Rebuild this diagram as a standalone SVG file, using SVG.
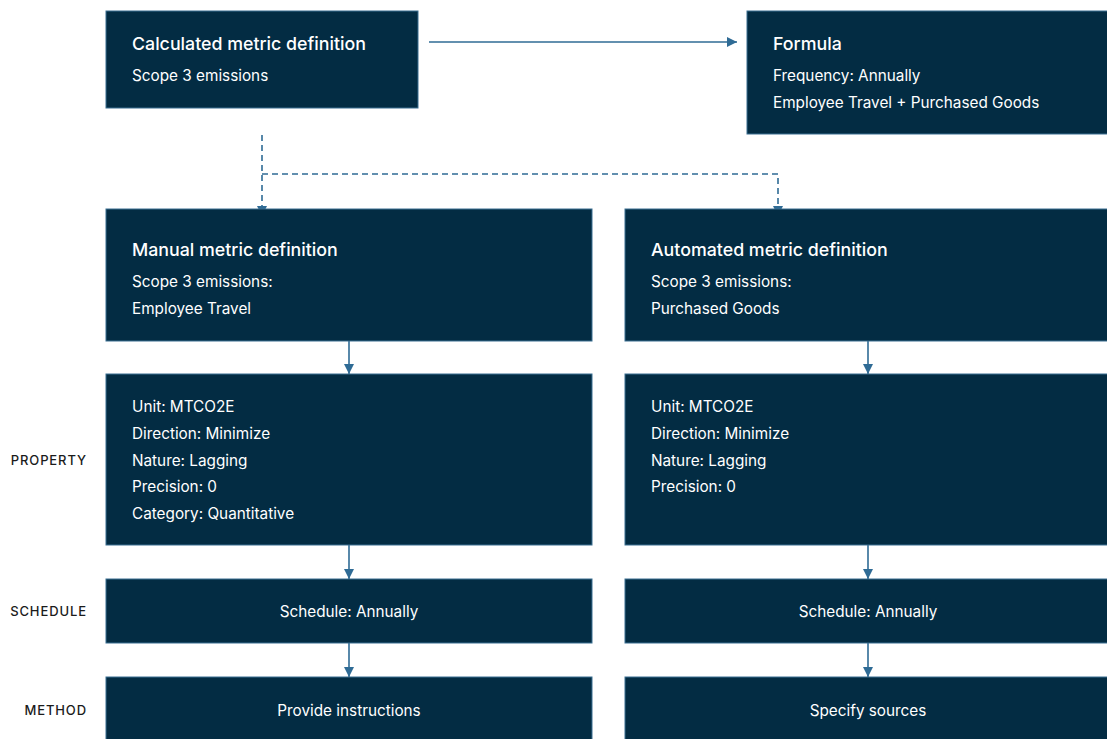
<svg xmlns="http://www.w3.org/2000/svg" width="1107" height="739" viewBox="0 0 1107 739">
<style>
.box{fill:#032c43;stroke:#3a6f92;stroke-width:1}
.t{font-family:Inter,"Liberation Sans",sans-serif;fill:#ffffff}
.h{font-size:17.8px;font-weight:500}
.b{font-size:15.3px;font-weight:400}
.c{text-anchor:middle}
.lab{font-family:Inter,"Liberation Sans",sans-serif;font-size:13px;font-weight:500;fill:#1b1b1b;text-anchor:end;letter-spacing:0.9px}
.ln{fill:none;stroke:#2f6b95;stroke-width:1.6}
.dash{stroke-dasharray:6 4}
</style>
<defs>
<marker id="ah" viewBox="0 0 10 10" refX="10" refY="5" markerWidth="10" markerHeight="10" markerUnits="userSpaceOnUse" orient="auto">
<path d="M0,0 L10,5 L0,10 z" fill="#2f6b95"/>
</marker>
</defs>
<rect width="1107" height="739" fill="#ffffff"/>
<g id="labels">
<text class="lab" x="87" y="465">PROPERTY</text>
<text class="lab" x="87" y="616">SCHEDULE</text>
<text class="lab" x="87" y="715">METHOD</text>
</g>
<g id="connectors">
<line class="ln" x1="429" y1="42" x2="737" y2="42" marker-end="url(#ah)"/>
<polyline class="ln dash" points="262,135 262,216" marker-end="url(#ah)"/>
<polyline class="ln dash" points="262,174 778,174 778,216" marker-end="url(#ah)"/>
<line class="ln" x1="349" y1="341" x2="349" y2="374" marker-end="url(#ah)"/>
<line class="ln" x1="868" y1="341" x2="868" y2="374" marker-end="url(#ah)"/>
<line class="ln" x1="349" y1="545" x2="349" y2="579" marker-end="url(#ah)"/>
<line class="ln" x1="868" y1="545" x2="868" y2="579" marker-end="url(#ah)"/>
<line class="ln" x1="349" y1="643" x2="349" y2="677" marker-end="url(#ah)"/>
<line class="ln" x1="868" y1="643" x2="868" y2="677" marker-end="url(#ah)"/>
</g>
<g id="calculated">
<rect class="box" x="106" y="11" width="312" height="97"/>
<text class="t h" x="132" y="50">Calculated metric definition</text>
<text class="t b" x="132" y="81">Scope 3 emissions</text>
</g>
<g id="formula">
<rect class="box" x="747" y="11" width="365" height="123"/>
<text class="t h" x="773" y="50">Formula</text>
<text class="t b" x="773" y="81">Frequency: Annually</text>
<text class="t b" x="773" y="108">Employee Travel + Purchased Goods</text>
</g>
<g id="manual">
<rect class="box" x="106" y="209" width="486" height="132"/>
<text class="t h" x="132" y="256">Manual metric definition</text>
<text class="t b" x="132" y="287">Scope 3 emissions:</text>
<text class="t b" x="132" y="314">Employee Travel</text>
</g>
<g id="automated">
<rect class="box" x="625" y="209" width="487" height="132"/>
<text class="t h" x="651" y="256">Automated metric definition</text>
<text class="t b" x="651" y="287">Scope 3 emissions:</text>
<text class="t b" x="651" y="314">Purchased Goods</text>
</g>
<g id="manual-property">
<rect class="box" x="106" y="374" width="486" height="171"/>
<text class="t b" x="132" y="412">Unit: MTCO2E</text>
<text class="t b" x="132" y="439">Direction: Minimize</text>
<text class="t b" x="132" y="466">Nature: Lagging</text>
<text class="t b" x="132" y="492">Precision: 0</text>
<text class="t b" x="132" y="519">Category: Quantitative</text>
</g>
<g id="automated-property">
<rect class="box" x="625" y="374" width="487" height="171"/>
<text class="t b" x="651" y="412">Unit: MTCO2E</text>
<text class="t b" x="651" y="439">Direction: Minimize</text>
<text class="t b" x="651" y="466">Nature: Lagging</text>
<text class="t b" x="651" y="492">Precision: 0</text>
</g>
<g id="manual-schedule">
<rect class="box" x="106" y="579" width="486" height="64"/>
<text class="t b c" x="349" y="617">Schedule: Annually</text>
</g>
<g id="automated-schedule">
<rect class="box" x="625" y="579" width="487" height="64"/>
<text class="t b c" x="868" y="617">Schedule: Annually</text>
</g>
<g id="manual-method">
<rect class="box" x="106" y="677" width="486" height="70"/>
<text class="t b c" x="349" y="716">Provide instructions</text>
</g>
<g id="automated-method">
<rect class="box" x="625" y="677" width="487" height="70"/>
<text class="t b c" x="868" y="716">Specify sources</text>
</g>
</svg>
